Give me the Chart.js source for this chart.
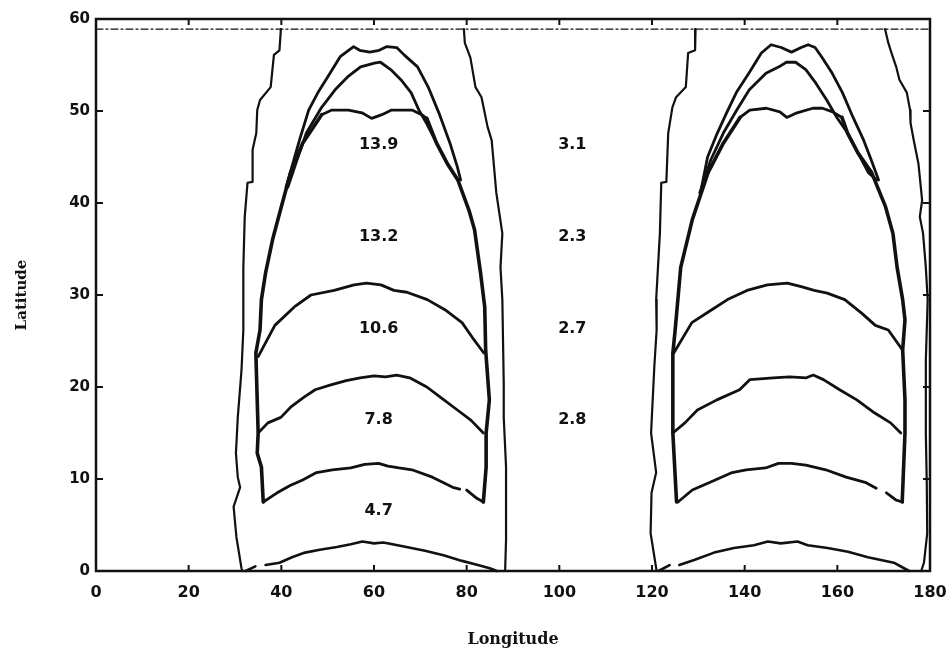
<!DOCTYPE html>
<html>
<head>
<meta charset="utf-8">
<script src="https://cdn.jsdelivr.net/npm/chart.js@4.4.1/dist/chart.umd.min.js"></script>
<style>
  html, body { margin: 0; padding: 0; background: #fff; }
  #wrap { width: 949px; height: 656px; }
</style>
</head>
<body>
<div id="wrap"><canvas id="c" width="949" height="656"></canvas></div>
<script>
// Axis tick values
const lonTicks = [0, 20, 40, 60, 80, 100, 120, 140, 160, 180];
const latTicks = [0, 10, 20, 30, 40, 50, 60];

// Dash-dot reference latitude near the top of the domain
const refLine = [[0, 58.9], [180, 58.9]];

// ---- Cell A (about 30-90 E) : contour polylines as [lon, lat]; null = pen up
const cellA_outerWest = [[39.9,58.9],[39.6,56.6],[38.4,56.1],[37.7,52.6],[35.4,51.2],[34.8,50.1],[34.6,47.6],[33.8,45.8],[33.8,42.3],[32.7,42.2],[32.1,38.5],[31.8,33.0],[31.8,26.2],[31.4,21.8],[30.6,16.7],[30.2,12.8],[30.6,10.2],[31.1,9.1],[29.7,7.0],[30.3,3.7],[31.4,0.3],[31.6,0]];
const cellA_outerEast = [[79.4,58.9],[79.6,57.4],[80.8,55.8],[81.9,52.6],[83.2,51.5],[84.5,48.3],[85.4,46.8],[86.4,41.1],[87.7,36.7],[87.3,33.0],[87.7,29.5],[88.0,20.4],[88.0,16.7],[88.5,11.3],[88.5,3.4],[88.3,0]];
const cellA_archHigh = [[41.0,41.7],[43.9,46.8],[45.9,50.1],[47.9,52.0],[50.0,53.7],[52.7,55.9],[55.6,57.0],[56.9,56.6],[59.1,56.4],[61.1,56.6],[62.8,57.0],[64.9,56.9],[66.5,56.1],[69.4,54.8],[71.7,52.6],[74.0,49.8],[76.4,46.5],[78.0,43.9],[78.7,42.5]];
const cellA_archMid = [[41.4,41.7],[43.4,44.7],[45.4,47.6],[48.7,50.4],[51.6,52.3],[54.3,53.7],[57.1,54.8],[60.1,55.2],[61.4,55.3],[63.6,54.5],[65.8,53.4],[68.0,52.0],[69.7,50.1],[71.3,48.7],[73.5,46.5],[75.8,44.3],[78.1,42.5]];
const cellA_cap = [[48.7,49.6],[50.9,50.1],[54.5,50.1],[57.4,49.8],[59.5,49.2],[61.7,49.6],[63.8,50.1],[66.0,50.1],[68.2,50.1],[70.3,49.6],[71.4,49.2]];
const cellA_wallWest = [[48.7,49.6],[44.6,46.5],[42.0,43.3],[40.0,39.6],[38.1,36.0],[36.6,32.4],[35.7,29.5],[35.4,26.2],[34.5,23.7],[35.0,15.0],[34.8,12.8],[35.7,11.3],[36.1,7.5]];
const cellA_wallEast = [[71.4,49.2],[73.5,46.5],[75.8,44.3],[78.1,42.5],[80.5,39.2],[81.7,37.1],[83.0,32.4],[83.9,28.7],[84.1,24.0],[84.9,18.6],[84.2,15.0],[84.2,11.3],[83.6,7.5]];
const cellA_band30 = [[35.0,23.3],[38.6,26.7],[42.8,28.7],[46.4,30.0],[51.4,30.5],[55.7,31.1],[58.4,31.3],[61.5,31.1],[64.3,30.5],[67.1,30.3],[71.5,29.5],[75.3,28.4],[79.0,27.0],[81.2,25.4],[83.7,23.7]];
const cellA_band20 = [[35.0,15.0],[37.1,16.1],[39.9,16.7],[42.0,17.8],[44.9,18.9],[47.3,19.7],[50.5,20.2],[54.0,20.7],[57.0,21.0],[60.0,21.2],[62.5,21.1],[64.9,21.3],[67.7,21.0],[71.4,20.0],[74.3,18.9],[78.0,17.5],[80.9,16.4],[83.6,15.0]];
const cellA_band10 = [[36.1,7.5],[39.1,8.5],[41.9,9.3],[44.6,9.9],[47.6,10.7],[51.0,11.0],[55.0,11.2],[58.0,11.6],[61.0,11.7],[63.0,11.4],[65.4,11.2],[68.2,11.0],[72.6,10.2],[77.0,9.1],[78.5,8.9],null,[80.0,8.8],[82.2,7.9],[83.6,7.5]];
const cellA_band0 = [[32.3,0],[34.4,0.5],null,[36.6,0.65],[39.6,0.9],[42.3,1.5],[45.1,2.0],[48.3,2.3],[52.0,2.6],[55.0,2.9],[57.5,3.2],[60.0,3.0],[62.0,3.1],[64.0,2.9],[67.0,2.6],[71.0,2.2],[75.0,1.7],[79.0,1.1],[82.0,0.7],[85.0,0.3],[86.5,0]];

// ---- Cell B (about 120-180 E)
const cellB_outerWest = [[129.4,58.9],[129.3,56.6],[127.8,56.3],[127.3,52.6],[125.2,51.5],[124.4,50.4],[123.5,47.6],[123.1,42.3],[122.0,42.2],[121.7,36.7],[120.9,29.5],[121.0,26.2],[120.5,22.2],[119.8,15.0],[120.9,10.7],[119.9,8.5],[119.7,4.1],[121.0,0]];
const cellB_outerEast = [[170.3,58.9],[171.0,57.4],[171.7,56.3],[172.7,54.8],[173.4,53.4],[175.0,52.0],[175.7,50.1],[175.8,48.7],[176.5,46.8],[177.5,44.3],[178.3,40.3],[177.8,38.5],[178.5,36.7],[179.1,33.0],[179.5,29.5],[179.1,22.9],[179.1,15.0],[179.3,9.6],[179.4,4.1],[178.7,0.9],[178.1,0]];
const cellB_archHigh = [[130.7,41.7],[132.0,45.0],[134.1,47.6],[136.1,49.8],[138.2,52.0],[140.9,54.1],[143.6,56.3],[145.7,57.2],[147.9,56.9],[150.1,56.4],[152.2,56.9],[153.7,57.2],[155.2,56.9],[156.6,55.9],[158.9,54.1],[161.1,52.0],[163.4,49.3],[165.7,46.8],[167.3,44.7],[168.9,42.5]];
const cellB_archMid = [[130.3,41.1],[132.7,44.7],[135.4,47.6],[138.3,50.1],[141.0,52.3],[144.6,54.1],[147.4,54.8],[149.0,55.3],[151.0,55.3],[153.2,54.5],[155.4,53.0],[157.7,51.2],[159.9,49.3],[162.2,47.6],[164.5,45.4],[166.7,43.3],[168.5,42.5]];
const cellB_cap = [[139.0,49.3],[141.1,50.1],[144.7,50.3],[147.6,49.9],[149.1,49.3],[151.3,49.8],[154.7,50.3],[156.8,50.3],[159.0,49.9],[161.0,49.3]];
const cellB_wallWest = [[139.0,49.3],[135.4,46.5],[132.1,43.3],[128.7,38.2],[126.2,33.0],[125.0,26.2],[124.5,23.7],[124.5,15.0],[125.3,7.5]];
const cellB_wallEast = [[161.0,49.3],[162.2,47.6],[164.5,45.4],[167.4,43.3],[170.4,39.6],[172.0,36.7],[172.9,33.0],[174.1,29.5],[174.6,27.3],[174.1,24.0],[174.6,18.6],[174.6,15.0],[174.0,7.5]];
const cellB_band30 = [[124.7,23.7],[128.6,27.0],[132.9,28.4],[136.3,29.5],[140.5,30.5],[144.9,31.1],[149.2,31.3],[152.2,30.9],[155.0,30.5],[157.8,30.2],[161.6,29.5],[165.3,28.0],[168.2,26.7],[171.0,26.2],[174.1,24.0]];
const cellB_band20 = [[124.5,15.0],[127.1,16.1],[129.8,17.5],[134.0,18.6],[138.9,19.7],[141.1,20.8],[146.2,21.0],[149.7,21.1],[153.3,21.0],[154.8,21.3],[157.0,20.8],[160.5,19.7],[164.2,18.6],[168.0,17.2],[171.5,16.1],[173.7,15.0]];
const cellB_band10 = [[125.6,7.5],[128.7,8.8],[132.3,9.6],[137.3,10.7],[140.3,11.0],[144.5,11.2],[147.3,11.7],[150.1,11.7],[153.2,11.5],[157.5,11.0],[161.9,10.2],[166.2,9.6],[168.4,9.0],null,[170.6,8.5],[172.7,7.7],[174.1,7.5]];
const cellB_band0 = [[121.4,0],[123.8,0.65],null,[125.9,0.65],[129.1,1.2],[133.4,2.0],[137.7,2.5],[142.0,2.8],[145.0,3.2],[147.8,3.0],[151.4,3.2],[153.6,2.8],[157.9,2.5],[162.3,2.1],[166.6,1.5],[169.4,1.2],[172.2,0.9],[174.4,0.3],[175.5,0]];

// Region values written inside the cells and between them
const cellValues = ['13.9', '13.2', '10.6', '7.8', '4.7'];
const cellValueLat = [46.3, 36.3, 26.3, 16.4, 6.5];
const cellValueLon = 61;
const gapValues = ['3.1', '2.3', '2.7', '2.8'];
const gapValueLat = [46.3, 36.3, 26.3, 16.4];
const gapValueLon = 102.8;

const INK = '#111';
const BOLD = '"DejaVu Sans", "Liberation Sans", sans-serif';
const SERIF = '"DejaVu Serif", serif';

function trace(points, width, dash) {
  return {
    data: points.map(p => p ? { x: p[0], y: p[1] } : { x: null, y: null }),
    showLine: true,
    spanGaps: false,
    borderColor: INK,
    borderWidth: width,
    borderDash: dash || [],
    borderCapStyle: 'round',
    borderJoinStyle: 'round',
    pointRadius: 0,
    tension: 0,
    fill: false,
    clip: 4
  };
}

const datasets = [
  trace(refLine, 1.4, [7, 3, 2, 3]),
  trace(cellA_outerWest, 2.2), trace(cellA_outerEast, 2.2),
  trace(cellA_archHigh, 2.8), trace(cellA_archMid, 2.8), trace(cellA_cap, 2.8),
  trace(cellA_wallWest, 3.6), trace(cellA_wallEast, 3.6),
  trace(cellA_band30, 2.8), trace(cellA_band20, 2.8), trace(cellA_band10, 2.8), trace(cellA_band0, 2.6),
  trace(cellB_outerWest, 2.2), trace(cellB_outerEast, 2.2),
  trace(cellB_archHigh, 2.8), trace(cellB_archMid, 2.8), trace(cellB_cap, 2.8),
  trace(cellB_wallWest, 3.6), trace(cellB_wallEast, 3.6),
  trace(cellB_band30, 2.8), trace(cellB_band20, 2.8), trace(cellB_band10, 2.8), trace(cellB_band0, 2.6)
];

// Frame, inward tick marks and the region value labels
const frameAndLabels = {
  id: 'frameAndLabels',
  afterDatasetsDraw(chart) {
    const { ctx, chartArea: a, scales: { x, y } } = chart;
    ctx.save();
    ctx.strokeStyle = INK;
    ctx.lineWidth = 2.5;
    ctx.strokeRect(a.left, a.top, a.right - a.left, a.bottom - a.top);
    ctx.lineWidth = 2;
    ctx.beginPath();
    lonTicks.forEach(v => {
      const px = x.getPixelForValue(v);
      ctx.moveTo(px, a.bottom); ctx.lineTo(px, a.bottom - 6);
      ctx.moveTo(px, a.top); ctx.lineTo(px, a.top + 6);
    });
    latTicks.forEach(v => {
      const py = y.getPixelForValue(v);
      ctx.moveTo(a.left, py); ctx.lineTo(a.left + 7, py);
      ctx.moveTo(a.right, py); ctx.lineTo(a.right - 7, py);
    });
    ctx.stroke();

    ctx.fillStyle = INK;
    ctx.font = 'bold 16px ' + BOLD;
    ctx.textAlign = 'center';
    ctx.textBaseline = 'middle';
    cellValues.forEach((t, i) => {
      ctx.fillText(t, x.getPixelForValue(cellValueLon), y.getPixelForValue(cellValueLat[i]));
    });
    gapValues.forEach((t, i) => {
      ctx.fillText(t, x.getPixelForValue(gapValueLon), y.getPixelForValue(gapValueLat[i]));
    });
    ctx.restore();
  }
};

new Chart(document.getElementById('c'), {
  type: 'scatter',
  data: { datasets },
  options: {
    responsive: false,
    animation: false,
    events: [],
    layout: { padding: { top: 19, right: 19, left: 0, bottom: 0 } },
    plugins: { legend: { display: false }, tooltip: { enabled: false } },
    scales: {
      x: {
        type: 'linear', min: 0, max: 180,
        afterBuildTicks: s => { s.ticks = lonTicks.map(v => ({ value: v })); },
        afterFit: s => { s.height = 85; s.paddingLeft = 0; s.paddingRight = 0; },
        grid: { display: false, drawTicks: false },
        border: { display: false },
        ticks: { color: INK, padding: 12, maxRotation: 0, autoSkip: false, font: { family: BOLD, weight: 'bold', size: 16 } },
        title: { display: true, text: 'Longitude', color: INK, padding: { top: 0, bottom: 7 }, font: { family: SERIF, weight: 'bold', size: 16 } }
      },
      y: {
        type: 'linear', min: 0, max: 60,
        afterBuildTicks: s => { s.ticks = latTicks.map(v => ({ value: v })); },
        afterFit: s => { s.width = 96; s.paddingTop = 0; s.paddingBottom = 0; },
        grid: { display: false, drawTicks: false },
        border: { display: false },
        ticks: { color: INK, padding: 6, autoSkip: false, font: { family: BOLD, weight: 'bold', size: 15 } },
        title: { display: true, text: 'Latitude', color: INK, padding: { top: 13, bottom: 0 }, font: { family: SERIF, weight: 'bold', size: 15 } }
      }
    }
  },
  plugins: [frameAndLabels]
});
</script>
</body>
</html>
